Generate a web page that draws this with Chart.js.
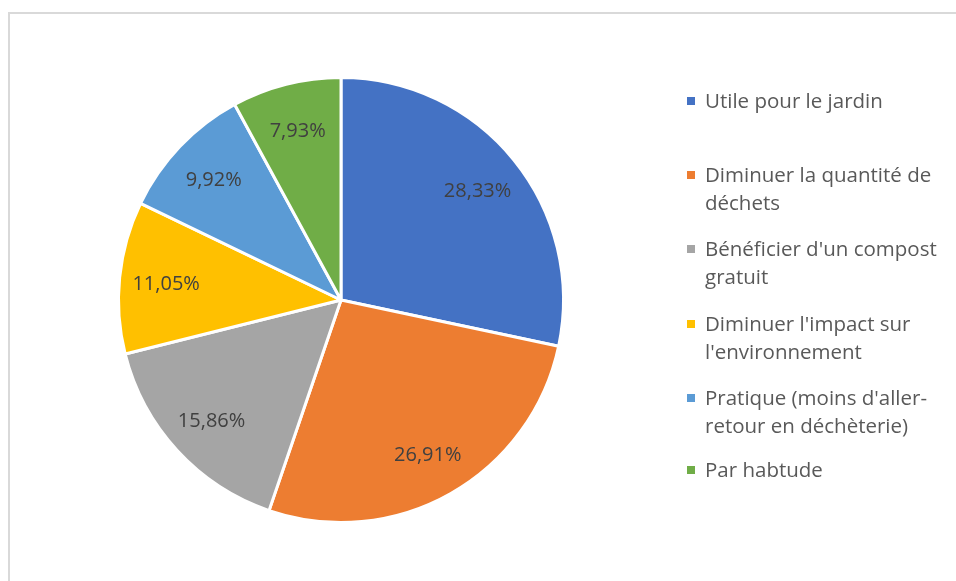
<!DOCTYPE html>
<html><head><meta charset="utf-8">
<script src="https://cdn.jsdelivr.net/npm/chart.js@4/dist/chart.umd.min.js"></script>
<style>
html,body{margin:0;padding:0;background:#fff;overflow:hidden;}
#frame{position:absolute;left:8px;top:12px;width:1200px;height:1200px;border:2px solid #d9d9d9;box-sizing:border-box;}
#wrap{position:absolute;left:0;top:0;width:956px;height:581px;}
</style></head>
<body>
<div id="frame"></div>
<div id="wrap"><canvas id="c" width="956" height="581"></canvas></div>
<script>
const categories = [
  ["Utile pour le jardin"],
  ["Diminuer la quantité de", "déchets"],
  ["Bénéficier d'un compost", "gratuit"],
  ["Diminuer l'impact sur", "l'environnement"],
  ["Pratique (moins d'aller-", "retour en déchèterie)"],
  ["Par habtude"]
];
const values = [28.33, 26.91, 15.86, 11.05, 9.92, 7.93];
const valueLabels = ["28,33%", "26,91%", "15,86%", "11,05%", "9,92%", "7,93%"];
const colors = ["#4472c4", "#ed7d31", "#a5a5a5", "#ffc000", "#5b9bd5", "#70ad47"];

const FONT = "'Open Sans', sans-serif";

const labelPlugin = {
  id: 'valueLabels',
  afterDatasetsDraw(chart) {
    const ctx = chart.ctx;
    const meta = chart.getDatasetMeta(0);
    ctx.save();
    ctx.font = "20px " + FONT;
    ctx.fillStyle = "#404040";
    ctx.textAlign = "center";
    ctx.textBaseline = "middle";
    meta.data.forEach((arc, i) => {
      const mid = (arc.startAngle + arc.endAngle) / 2;
      const r = arc.outerRadius * 0.79;
      ctx.fillText(valueLabels[i], arc.x + Math.cos(mid) * r, arc.y + Math.sin(mid) * r + 2);
    });
    ctx.restore();
  }
};

const legendPlugin = {
  id: 'sideLegend',
  afterDraw(chart) {
    const ctx = chart.ctx;
    ctx.save();
    ctx.font = "20.5px " + FONT;
    ctx.textBaseline = "middle";
    ctx.textAlign = "left";
    const firstY = [101, 175, 249, 324, 398, 470];
    categories.forEach((lines, i) => {
      const y0 = firstY[i];
      ctx.fillStyle = colors[i];
      ctx.fillRect(687, y0 - 4, 8, 8);
      ctx.fillStyle = "#595959";
      lines.forEach((t, j) => ctx.fillText(t, 705, y0 + j * 28 + 1));
    });
    ctx.restore();
  }
};

new Chart(document.getElementById('c'), {
  type: 'pie',
  data: {
    labels: categories.map(l => l.join(' ')),
    datasets: [{
      data: values,
      backgroundColor: colors,
      borderColor: '#ffffff',
      borderWidth: 3,
      hoverOffset: 0
    }]
  },
  options: {
    responsive: false,
    animation: false,
    layout: { padding: { left: 117, right: 391, top: 76, bottom: 57 } },
    plugins: { legend: { display: false }, tooltip: { enabled: false } }
  },
  plugins: [labelPlugin, legendPlugin]
});
</script>
</body></html>
